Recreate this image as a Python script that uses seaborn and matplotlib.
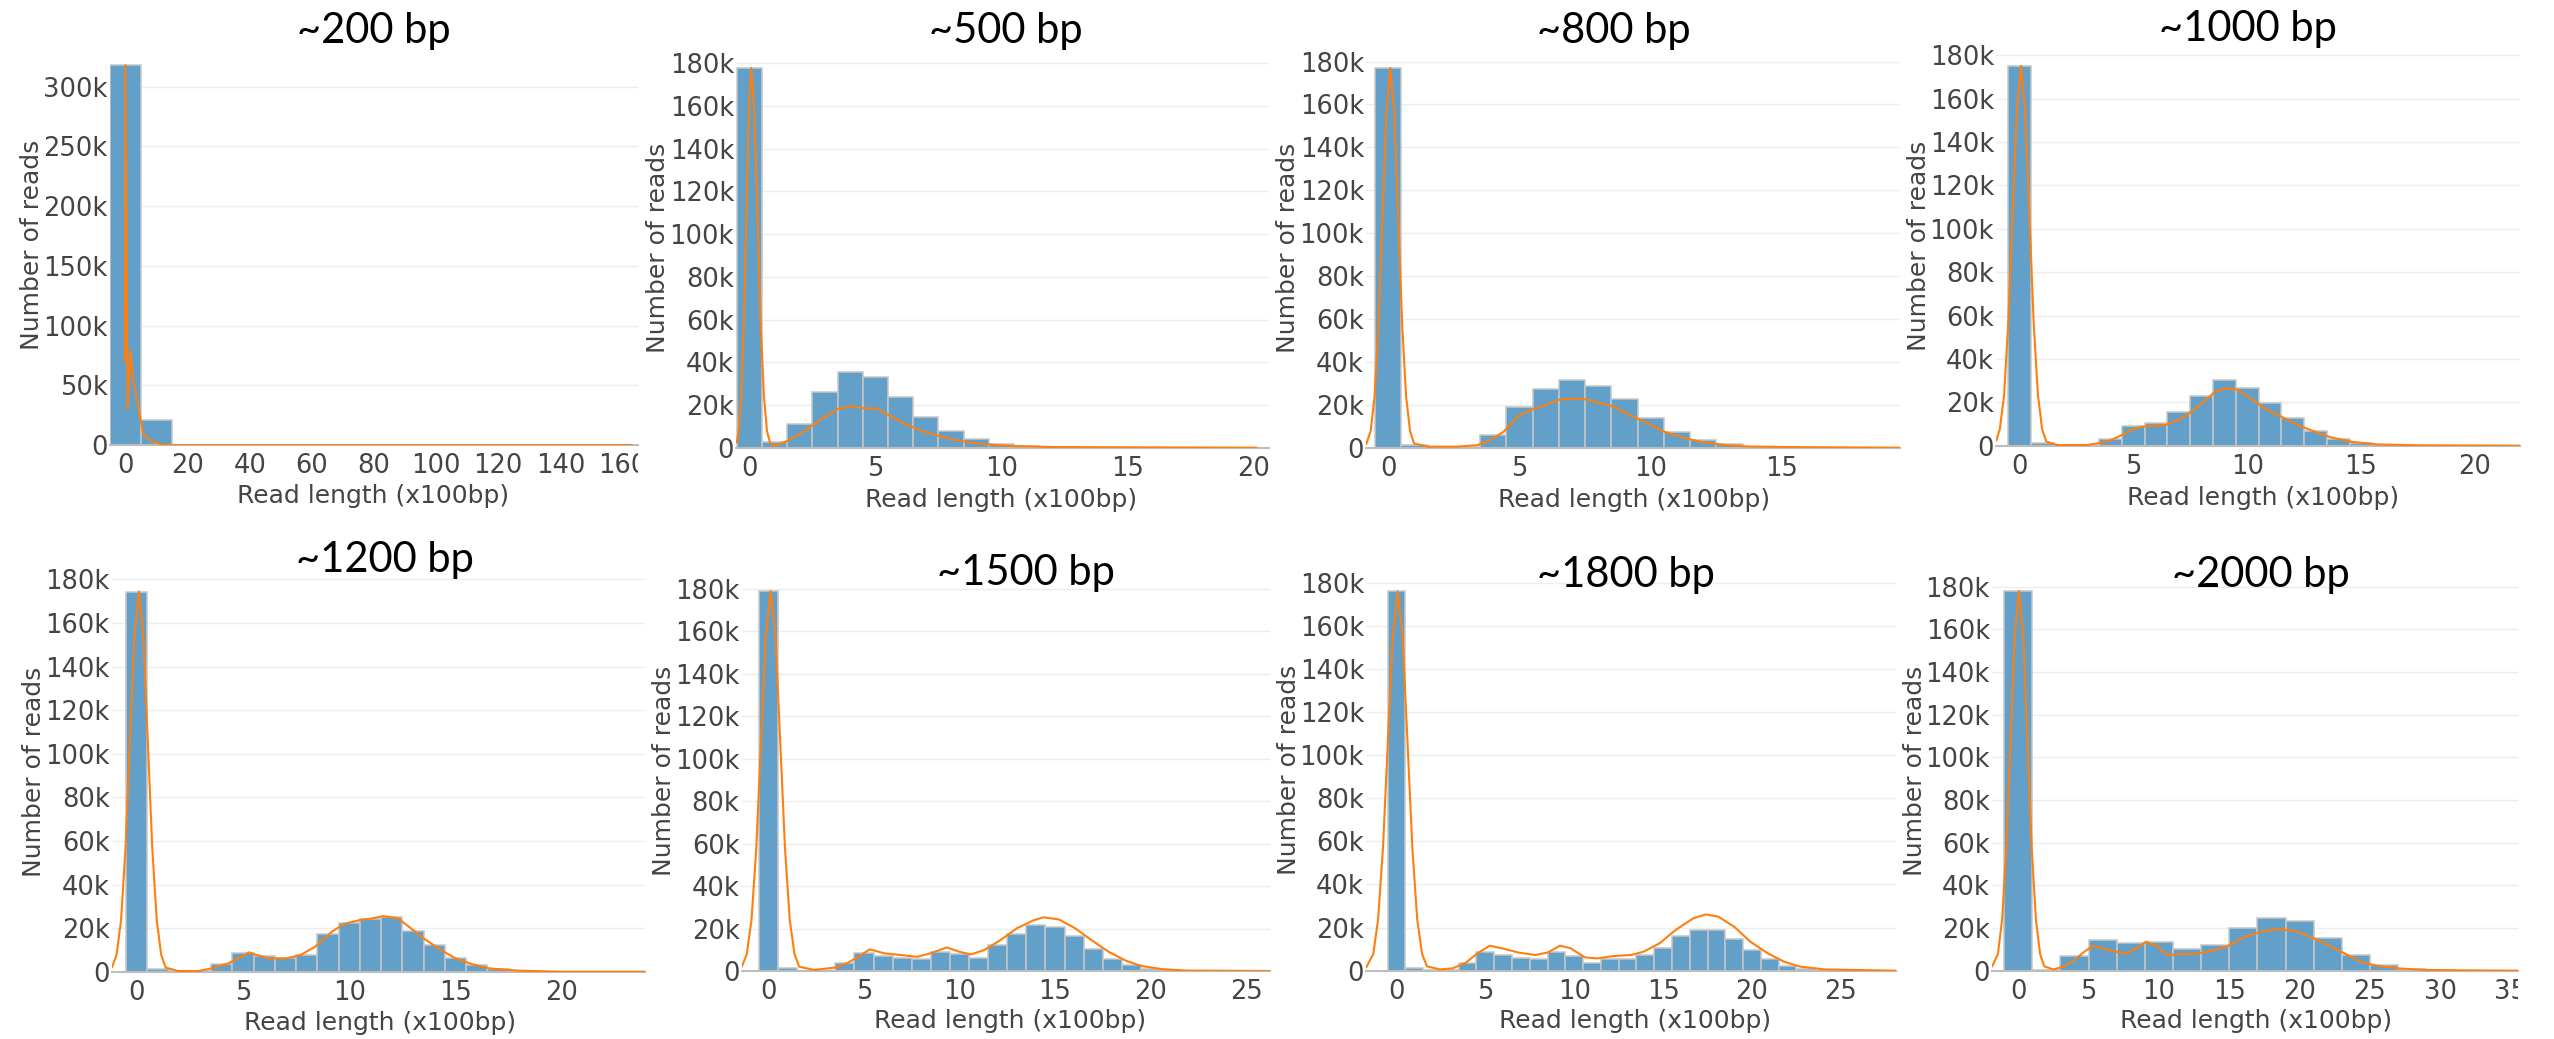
import numpy as np
import pandas as pd
import matplotlib
matplotlib.use("Agg")
import matplotlib.pyplot as plt
from matplotlib.ticker import FuncFormatter
from matplotlib.transforms import Bbox, TransformedBbox
import seaborn as sns

# ---------------- data: read-length histograms (x100 bp) ----------------
titles = ["~200 bp", "~500 bp", "~800 bp", "~1000 bp",
          "~1200 bp", "~1500 bp", "~1800 bp", "~2000 bp"]

# bin centres and read counts per bin
len_200 = [0, 10]
reads_200 = [318000, 21000]

len_500 = list(range(0, 13))
reads_500 = [177800, 2500, 11100, 26300, 35600, 33300, 23600, 14200, 7800,
             3900, 1700, 900, 300]

len_800 = list(range(0, 16))
reads_800 = [177000, 1200, 200, 500, 5900, 19000, 27200, 31400, 28600, 22700,
             13700, 7100, 3600, 1600, 500, 300]

len_1000 = list(range(0, 17))
reads_1000 = [175000, 1100, 200, 200, 3200, 9100, 10600, 15400, 22900, 30300,
              26700, 19500, 12600, 6800, 3200, 1100, 500]

len_1200 = list(range(0, 19))
reads_1200 = [174200, 1100, 200, 200, 3500, 8700, 7200, 6100, 7500, 17300,
              22500, 24000, 24900, 18700, 12200, 6400, 3100, 1400, 400]

len_1500 = list(range(0, 22))
reads_1500 = [178900, 1300, 200, 200, 3600, 8300, 7200, 6300, 5500, 8800,
              7800, 6300, 12100, 17300, 21500, 20600, 16500, 10200, 5800,
              2800, 1100, 400]

len_1800 = list(range(0, 25))
reads_1800 = [176200, 1100, 300, 300, 3700, 8800, 7300, 5700, 5300, 8500,
              6800, 3400, 5300, 5300, 7300, 10400, 16100, 18900, 18900, 14500,
              9600, 5300, 2300, 900, 300]

len_2000 = list(range(0, 32, 2))
reads_2000 = [178000, 300, 6900, 14400, 12800, 13400, 10000, 11900, 19800,
              24500, 23400, 15200, 7200, 2700, 600, 200]

# density curves (scaled to read counts)
kde_x_200 = [-0.2, 0.0, 0.7, 1.6, 2.4, 3.7, 5.7, 8.4, 11.7, 15.0, 163.0]
kde_y_200 = [70000, 318000, 30000, 79000, 57000, 37700, 9800, 2800, 600, 0, 0]

kde_x_500 = [-0.5, -0.42, -0.32, -0.22, -0.12, -0.02, 0.08, 0.2, 0.33, 0.45,
             0.58, 0.7, 0.83, 1.0, 1.59, 2.25, 2.9, 3.56, 4.05, 4.54, 5.03,
             5.52, 6.18, 6.84, 7.49, 8.15, 8.8, 9.62, 10.44, 12.08, 20.11]
kde_y_500 = [2500, 7800, 24100, 57700, 107800, 156900, 177800, 156900, 107800,
             57700, 24100, 7800, 2000, 900, 3600, 8300, 13750, 18400, 19500,
             18400, 18400, 15300, 11100, 7800, 5600, 3600, 2300, 1400, 780,
             310, 0]

kde_x_800 = [-0.84, -0.67, -0.52, -0.37, -0.22, -0.07, 0.08, 0.23, 0.38, 0.53,
             0.68, 0.83, 0.98, 1.5, 2.6, 3.4, 3.9, 4.4, 5.0, 5.6, 6.0, 6.55,
             7.2, 7.66, 8.1, 8.6, 9.2, 9.9, 10.5, 11.3, 12.1, 12.9, 13.7,
             15.2, 19.5]
kde_y_800 = [1600, 7800, 23900, 57500, 107400, 156200, 177000, 156200, 107400,
             57500, 23900, 7800, 2000, 500, 500, 1200, 3600, 7500, 15200,
             18300, 19900, 22500, 23000, 22200, 20700, 19100, 15200, 11300,
             7500, 4400, 2300, 1200, 600, 300, 0]

kde_x_1000 = [-1.02, -0.86, -0.67, -0.49, -0.3, -0.115, 0.07, 0.255, 0.44,
              0.625, 0.81, 0.995, 1.18, 1.67, 2.95, 3.86, 4.5, 5.04, 5.68,
              6.4, 7.13, 7.86, 8.59, 9.14, 9.5, 10.05, 10.77, 11.5, 12.23,
              12.96, 13.7, 14.6, 15.7, 17.5, 21.97]
kde_y_1000 = [2300, 7700, 23700, 56800, 106100, 154400, 175000, 154400, 106100,
              56800, 23700, 7700, 1900, 300, 300, 1800, 4900, 8000, 9200, 9500,
              12600, 18000, 24900, 26400, 26100, 22600, 17200, 13400, 9500,
              6500, 3800, 1800, 600, 200, 0]

kde_x_1200 = [-1.17, -0.95, -0.74, -0.53, -0.32, -0.11, 0.1, 0.31, 0.52, 0.73,
              0.94, 1.15, 1.36, 1.95, 2.9, 3.5, 4.3, 5.07, 5.27, 5.66, 6.24,
              7.02, 7.7, 8.4, 9.17, 9.76, 10.5, 11.1, 11.6, 12.3, 12.9, 13.5,
              14.2, 15.0, 15.8, 16.6, 17.95, 19.9, 23.9]
kde_y_1200 = [1900, 7700, 23600, 56700, 105800, 154000, 174500, 154000, 105800,
              56700, 23600, 7700, 1900, 300, 300, 1500, 3800, 7600, 8900, 7600,
              6100, 6100, 7600, 11500, 18300, 21900, 23700, 24500, 25500,
              24500, 19900, 15300, 10700, 6100, 3400, 1500, 500, 0, 0]

kde_x_1500 = [-1.41, -1.14, -0.89, -0.64, -0.39, -0.14, 0.11, 0.36, 0.61, 0.86,
              1.11, 1.36, 1.61, 2.39, 3.47, 4.1, 4.77, 5.3, 6.08, 6.94, 7.8,
              8.46, 9.33, 9.98, 10.6, 11.3, 12.15, 13.0, 13.9, 14.4, 15.2,
              16.06, 16.9, 17.8, 18.7, 19.5, 20.6, 21.9, 26.26]
kde_y_1500 = [1800, 7900, 24200, 58100, 108600, 158000, 179000, 158000, 108600,
              58100, 24200, 7900, 2000, 500, 1600, 3600, 7100, 10200, 8300,
              7500, 6700, 8300, 11100, 9100, 7800, 9900, 14600, 20100, 24000,
              25300, 24300, 20100, 14600, 9100, 4900, 2400, 900, 200, 0]

kde_x_1800 = [-1.7, -1.305, -1.03, -0.755, -0.48, -0.205, 0.07, 0.345, 0.62,
              0.895, 1.17, 1.445, 1.72, 2.45, 3.15, 3.85, 4.55, 5.24, 5.94,
              6.88, 7.8, 8.5, 9.2, 9.8, 10.6, 11.3, 12.2, 13.2, 13.9, 14.8,
              15.7, 16.7, 17.4, 18.1, 19.0, 19.9, 20.9, 21.8, 22.7, 24.1, 28.1]
kde_y_1800 = [1500, 7700, 23800, 57100, 106700, 155300, 176000, 155300, 106700,
              57100, 23800, 7700, 2000, 600, 1100, 3400, 8000, 11600, 10400,
              8400, 7300, 8400, 11600, 10400, 6200, 5700, 6800, 7300, 8800,
              12700, 18900, 24300, 26100, 25100, 20400, 13500, 8000, 4200,
              1900, 600, 0]

kde_x_2000 = [-1.86, -1.44, -1.14, -0.84, -0.54, -0.24, 0.06, 0.36, 0.66, 0.96,
              1.26, 1.56, 1.86, 2.5, 3.25, 4.0, 4.7, 5.3, 6.05, 6.9, 7.7, 8.4,
              9.1, 9.9, 10.6, 11.65, 12.8, 14.0, 14.9, 16.1, 17.3, 18.4, 19.6,
              20.8, 22.0, 23.2, 24.3, 25.5, 27.0, 29.1, 35.5]
kde_y_2000 = [1900, 7800, 24100, 57800, 108000, 157100, 178000, 157100, 108000,
              57800, 24100, 7800, 2000, 600, 1900, 5000, 8900, 11600, 10500,
              8900, 8100, 10500, 13600, 11300, 7300, 7800, 8100, 9700, 11600,
              15900, 18300, 19500, 18800, 15900, 12000, 8100, 4200, 2300, 1100,
              300, 0]

# x tick values shown on each panel
xticks_200 = list(range(0, 161, 20))
xticks_500 = [0, 5, 10, 15, 20]
xticks_800 = [0, 5, 10, 15]
xticks_1000 = [0, 5, 10, 15, 20]
xticks_1200 = [0, 5, 10, 15, 20]
xticks_1500 = [0, 5, 10, 15, 20, 25]
xticks_1800 = [0, 5, 10, 15, 20, 25]
xticks_2000 = [0, 5, 10, 15, 20, 25, 30, 35]
yticks_200 = list(range(0, 300001, 50000))
yticks_common = list(range(0, 180001, 20000))

panels = [
    (titles[0], len_200, reads_200, 10, kde_x_200, kde_y_200, xticks_200, yticks_200),
    (titles[1], len_500, reads_500, 1, kde_x_500, kde_y_500, xticks_500, yticks_common),
    (titles[2], len_800, reads_800, 1, kde_x_800, kde_y_800, xticks_800, yticks_common),
    (titles[3], len_1000, reads_1000, 1, kde_x_1000, kde_y_1000, xticks_1000, yticks_common),
    (titles[4], len_1200, reads_1200, 1, kde_x_1200, kde_y_1200, xticks_1200, yticks_common),
    (titles[5], len_1500, reads_1500, 1, kde_x_1500, kde_y_1500, xticks_1500, yticks_common),
    (titles[6], len_1800, reads_1800, 1, kde_x_1800, kde_y_1800, xticks_1800, yticks_common),
    (titles[7], len_2000, reads_2000, 2, kde_x_2000, kde_y_2000, xticks_2000, yticks_common),
]

# ---------------- layout (pixels) ----------------
FIG_W, FIG_H = 2554, 1039
PLOT_H = 398.7
# left, right, y of zero line, x range, title (x, baseline), xlabel (x, baseline), ylabel (baseline x, centre y)
layout = [
    dict(l=109.9, r=638.4, y0=445.0, xlim=(-5.0, 165.1), t=(374.1, 42.7), xl=(373.1, 503.0), yl=(39.4, 245.0)),
    dict(l=736.2, r=1268.9, y0=447.7, xlim=(-0.52, 20.6), t=(1005.8, 42.7), xl=(1000.7, 506.7), yl=(664.9, 247.5)),
    dict(l=1366.2, r=1900.1, y0=447.7, xlim=(-0.84, 19.5), t=(1614.1, 42.7), xl=(1633.8, 506.7), yl=(1294.9, 247.5)),
    dict(l=1996.2, r=2519.7, y0=445.7, xlim=(-1.02, 21.97), t=(2248.2, 40.7), xl=(2262.7, 505.0), yl=(1925.7, 245.8)),
    dict(l=111.9, r=644.6, y0=971.7, xlim=(-1.17, 23.9), t=(384.5, 571.7), xl=(380.3, 1030.0), yl=(40.6, 771.7)),
    dict(l=741.6, r=1270.1, y0=971.0, xlim=(-1.41, 26.26), t=(1025.5, 585.0), xl=(1010.0, 1028.3), yl=(671.1, 770.8)),
    dict(l=1366.2, r=1896.0, y0=970.7, xlim=(-1.7, 28.1), t=(1625.5, 586.7), xl=(1634.8, 1028.3), yl=(1295.7, 770.3)),
    dict(l=1992.0, r=2517.7, y0=970.7, xlim=(-1.86, 35.5), t=(2260.7, 586.7), xl=(2256.5, 1028.3), yl=(1922.0, 770.8)),
]

BAR = "#62a0ca"
EDGE = "#c6c6c6"
CURVE = "#ff7f0e"
TEXT = "#444444"

sns.set_theme(style="white")
plt.rcParams["font.family"] = ["DejaVu Sans"]

fig = plt.figure(figsize=(FIG_W / 100, FIG_H / 100), dpi=100)
fig.patch.set_facecolor("white")

kfmt = FuncFormatter(lambda v, p: "0" if v == 0 else f"{int(round(v / 1000))}k")

for (title, centers, counts, width, kx, ky, xt, yt), lay in zip(panels, layout):
    l, r, y0 = lay["l"], lay["r"], lay["y0"]
    ax = fig.add_axes([l / FIG_W, 1 - y0 / FIG_H, (r - l) / FIG_W, PLOT_H / FIG_H])

    hist_df = pd.DataFrame({"length": centers, "reads": counts})
    edges = [float(e) for e in np.arange(centers[0] - width / 2, centers[-1] + width, width)]
    sns.histplot(data=hist_df, x="length", weights="reads", bins=edges, ax=ax,
                 color=BAR, alpha=1.0, edgecolor=EDGE, linewidth=1.1, zorder=2)

    kde_df = pd.DataFrame({"length": kx, "reads": ky})
    sns.lineplot(data=kde_df, x="length", y="reads", ax=ax, color=CURVE,
                 linewidth=1.5, estimator=None, sort=False, zorder=3)

    ax.set_xlim(*lay["xlim"])
    ax.set_ylim(0, 1.05 * max(counts))
    ax.set_xticks(xt)
    ax.set_yticks(yt)
    ax.yaxis.set_major_formatter(kfmt)

    ax.set_axisbelow(True)
    ax.yaxis.grid(True, color="#ededed", linewidth=1.0)
    ax.xaxis.grid(False)
    for side in ("top", "right", "left"):
        ax.spines[side].set_visible(False)
    ax.spines["bottom"].set_color("#bdbdbd")
    ax.spines["bottom"].set_linewidth(1.5)

    ax.tick_params(axis="both", length=0, labelsize=18.5, labelcolor=TEXT)
    ax.tick_params(axis="x", pad=6)
    ax.tick_params(axis="y", pad=1.5)

    ax.set_xlabel("Read length (x100bp)", fontsize=18, color=TEXT)
    ax.xaxis.label.set_va("baseline")
    ax.xaxis.set_label_coords((lay["xl"][0] - l) / (r - l), -(lay["xl"][1] - y0) / PLOT_H)

    ax.set_ylabel("Number of reads", fontsize=18, color=TEXT)
    ax.yaxis.label.set_va("baseline")
    ax.yaxis.set_label_coords((lay["yl"][0] - l) / (r - l), (y0 - lay["yl"][1]) / PLOT_H)

    ax.set_title(title, fontsize=30, fontfamily="Lato", color="black",
                 x=(lay["t"][0] - l) / (r - l), y=(y0 - lay["t"][1]) / PLOT_H,
                 pad=0, va="baseline")

    # tick labels past the right edge of the plot area are cut off
    clip = TransformedBbox(Bbox([[-1.0, -1.0], [1.0, 2.0]]), ax.transAxes)
    for lab in ax.get_xticklabels():
        lab.set_clip_box(clip)
        lab.set_clip_on(True)

fig.savefig("out.png", dpi=100, facecolor="white")
